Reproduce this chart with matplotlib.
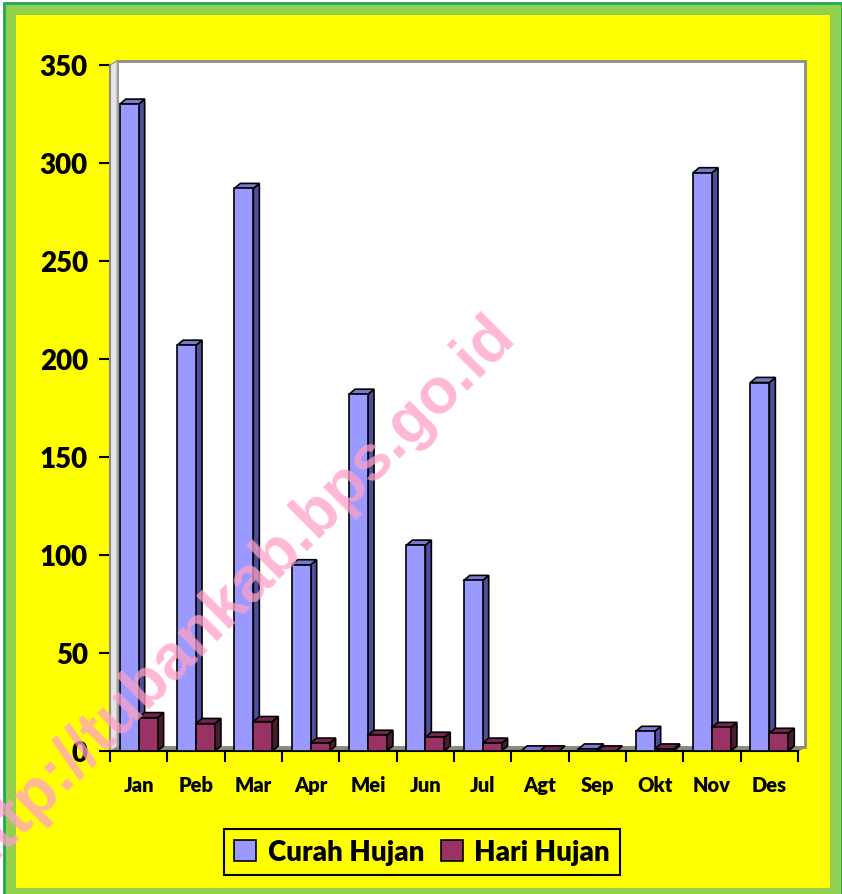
import matplotlib.pyplot as plt
from matplotlib.patches import Rectangle, Polygon
import matplotlib.transforms as mtransforms
import numpy as np

bulan = ["Jan", "Peb", "Mar", "Apr", "Mei", "Jun", "Jul", "Agt", "Sep", "Okt", "Nov", "Des"]
curah_hujan = [330, 207, 287, 95, 182, 105, 87, 0, 1, 10, 295, 188]
hari_hujan = [17, 14, 15, 4, 8, 7, 4, 0, 0, 1, 12, 9]
yticks = [0, 50, 100, 150, 200, 250, 300, 350]

W, H = 842, 895
fig = plt.figure(figsize=(W / 100, H / 100), dpi=100)
fig.patch.set_facecolor("white")

def px(x, y, w, h):
    # pixel box (top-left origin) -> figure fraction
    return (x / W, 1 - (y + h) / H, w / W, h / H)

# frame: dark green line, light green band, yellow fill
x0, y0, w0, h0 = px(4, 4, 838, 895)
fig.patches.append(Rectangle((x0, y0), w0, h0, transform=fig.transFigure,
                             facecolor="#92D050", edgecolor="#1FA855", lw=2, zorder=-3))
x1, y1, w1, h1 = px(16, 16, 814, 873)
fig.patches.append(Rectangle((x1, y1), w1, h1, transform=fig.transFigure,
                             facecolor="#FFFF00", edgecolor="none", zorder=-2))

ax = fig.add_axes(px(110, 66, 688, 686))
ax.patch.set_visible(False)

n = len(bulan)
xs = np.arange(n)
bw = 0.33
dx = 0.105   # 3d depth in category units
dy = 2.6     # 3d depth in data units

# back wall, floor and side wall
off = mtransforms.offset_copy(ax.transAxes, fig=fig, x=7, y=4, units="dots")
ax.add_patch(Rectangle((0, 0), 1, 1, transform=off, facecolor="white",
                       edgecolor="#8C8C8C", lw=2, zorder=0.5, clip_on=False))
ax.add_patch(Polygon([(-0.5, 0), (n - 0.5, 0), (n - 0.5 + dx * 1.2, dy * 0.8), (-0.5 + dx * 1.2, dy * 0.8)],
                     closed=True, facecolor="#8C8C7A", edgecolor="#8C8C7A", lw=1, zorder=0.6, clip_on=False))
ax.add_patch(Polygon([(-0.5, 0), (-0.5 + dx * 1.2, dy * 0.8), (-0.5 + dx * 1.2, 350 + dy * 0.8), (-0.5, 350)],
                     closed=True, facecolor="#E6E6E6", edgecolor="#A0A0A0", lw=1, zorder=0.6, clip_on=False))

def bars3d(xpos, vals, front, side, top, label):
    ax.bar(xpos, vals, width=bw, color=front, edgecolor="black", lw=1.2, zorder=3, label=label)
    for x, v in zip(xpos, vals):
        l, r = x - bw / 2, x + bw / 2
        ax.add_patch(Polygon([(r, 0), (r + dx, dy), (r + dx, v + dy), (r, v)], closed=True,
                             facecolor=side, edgecolor="black", lw=1.2, zorder=2.9))
        ax.add_patch(Polygon([(l, v), (l + dx, v + dy), (r + dx, v + dy), (r, v)], closed=True,
                             facecolor=top, edgecolor="black", lw=1.2, zorder=2.9))

bars3d(xs - bw / 2, curah_hujan, "#9999FF", "#4F4F99", "#7A7ACC", "Curah Hujan")
bars3d(xs + bw / 2, hari_hujan, "#993366", "#4D1A33", "#73264D", "Hari Hujan")

ax.set_xlim(-0.5, n - 0.5)
ax.set_ylim(0, 350)
for s in ["top", "right"]:
    ax.spines[s].set_visible(False)
ax.spines["left"].set_color("#8C8C8C")
ax.spines["left"].set_linewidth(1.5)
ax.spines["bottom"].set_linewidth(1.5)

ax.set_yticks(yticks)
ax.set_yticklabels([str(t) for t in yticks], fontsize=20, fontweight="heavy", family="Lato")
ax.tick_params(axis="y", length=8, width=1.5, pad=8)

ax.set_xticks(xs)
ax.set_xticklabels(bulan, fontsize=14.5, fontweight="heavy", family="Lato")
ax.set_xticks(np.arange(n + 1) - 0.5, minor=True)
ax.tick_params(axis="x", which="major", length=0, pad=17)
ax.tick_params(axis="x", which="minor", length=8, width=1.5)

leg = fig.legend(loc="center", bbox_to_anchor=(422 / W, 1 - 853 / H), ncol=2,
                 prop={"family": "Lato", "weight": "heavy", "size": 20},
                 frameon=True, fancybox=False, edgecolor="black", facecolor="#FFFF00",
                 handlelength=0.8, handleheight=0.8, handletextpad=0.4, columnspacing=0.6,
                 borderpad=0.35)
leg.get_frame().set_linewidth(1.5)
leg.get_frame().set_alpha(1)

fig.text(235 / W, 1 - 595 / H, "http://tubankab.bps.go.id", rotation=45,
         ha="center", va="center", fontsize=46, fontweight="bold", family="Liberation Sans",
         color="#FFA0C8", alpha=0.75, zorder=10)

fig.savefig("out.png", dpi=100)
